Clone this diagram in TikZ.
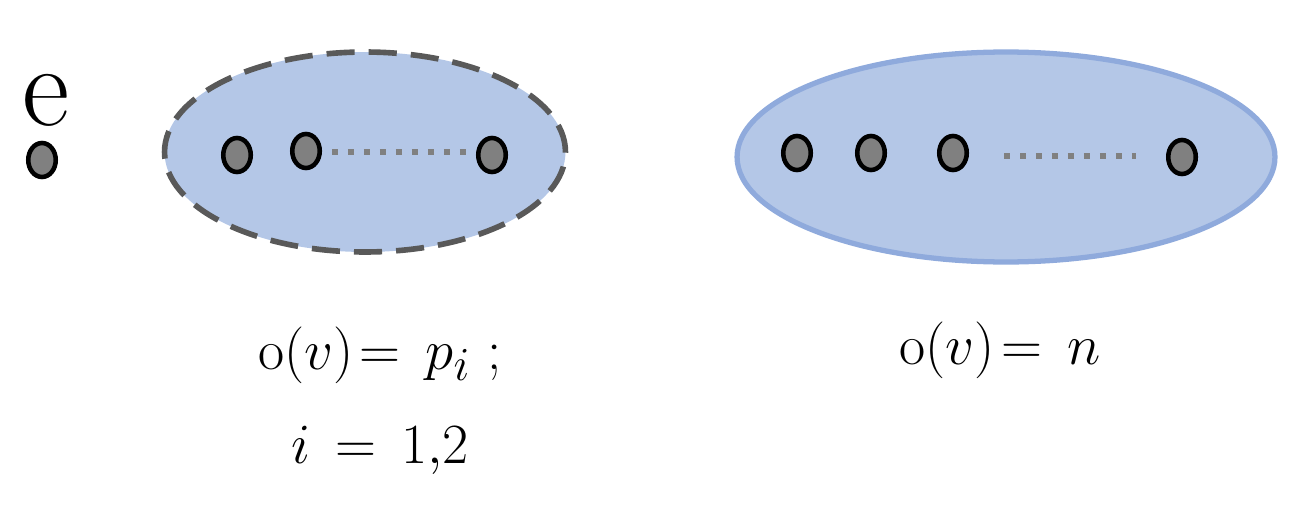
\documentclass[tikz,border=0pt]{standalone}
\usepackage{graphicx}
\usetikzlibrary{shapes.geometric}
\definecolor{setfill}{HTML}{B4C7E7}
\definecolor{setline}{HTML}{8FAADC}
\definecolor{dashgray}{HTML}{595959}
\definecolor{dotgray}{HTML}{808080}
\newcommand{\bigtxt}[1]{\scalebox{1.3}{\Huge #1}}
\tikzset{
  vert/.style={ellipse, draw=black, fill=dotgray, line width=2.6pt, inner sep=0pt, minimum width=0.55cm, minimum height=0.68cm},
  dashset/.style={ellipse, fill=setfill, draw=dashgray, line width=3.2pt, dash pattern=on 16pt off 8pt, inner sep=0pt},
  solidset/.style={ellipse, fill=setfill, draw=setline, line width=3pt, inner sep=0pt},
  dotline/.style={draw=dotgray, line width=3.4pt, dash pattern=on 3.4pt off 5.7pt},
  lab/.style={inner sep=0pt}
}
\begin{document}
\begin{tikzpicture}[x=0.02cm, y=-0.02cm]
\useasboundingbox (0,0) rectangle (1310,510);
% left set
\node[dashset, minimum width=8.02cm, minimum height=4.0cm] (S1) at (365,152) {};
\node[vert] (a1) at (237,155) {};
\node[vert] (a2) at (306,151) {};
\node[vert] (a3) at (492,155) {};
\coordinate (a2r) at (332,152);
\coordinate (a3l) at (466,152);
\draw[dotline] (a2r) -- (a3l);
% right set
\node[solidset, minimum width=10.76cm, minimum height=4.2cm] (S2) at (1006,157) {};
\node[vert] (b1) at (797,153) {};
\node[vert] (b2) at (871,153) {};
\node[vert] (b3) at (953,153) {};
\node[vert] (b4) at (1182,157) {};
\coordinate (b3r) at (1004,156);
\coordinate (b4l) at (1136,156);
\draw[dotline] (b3r) -- (b4l);
% isolated vertex e
\node[vert] (e) at (42,160) {};
\node[inner sep=0pt, anchor=base] (elab) at (46,125) {\scalebox{2.65}{\Huge e}};
% labels
\node[lab] (t1) at (380,355) {\bigtxt{$\mathrm{o}(v)\!=\,p_i$\ ;}};
\node[lab] (t2) at (380,450) {\bigtxt{$i\,=\,1{,}2$}};
\node[lab] (t3) at (1000,350) {\bigtxt{$\mathrm{o}(v)\!=\,n$}};
\end{tikzpicture}
\end{document}
